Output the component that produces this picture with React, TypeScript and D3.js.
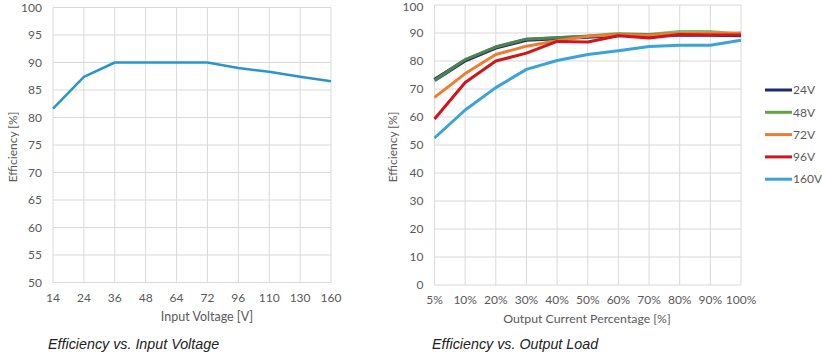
import React from 'react';
import * as d3 from 'd3';

// left chart
const voltages = ['14', '24', '36', '48', '64', '72', '96', '110', '130', '160'];
const effByVoltage = [81.6, 87.4, 90, 90, 90, 90, 89, 88.3, 87.4, 86.6];
const leftTicks = [50, 55, 60, 65, 70, 75, 80, 85, 90, 95, 100];

// right chart
const loads = ['5%', '10%', '20%', '30%', '40%', '50%', '60%', '70%', '80%', '90%', '100%'];
const eff24 = [73.2, 80.2, 84.8, 87.6, 88.1, 88.7, 89.3, 89.3, 89.5, 89.4, 89.2];
const eff48 = [73.0, 80.5, 85.0, 87.8, 88.3, 88.9, 89.8, 89.5, 90.5, 90.5, 89.6];
const eff72 = [67.0, 75.5, 82.3, 85.3, 87.2, 88.8, 89.4, 89.2, 89.8, 89.9, 90.0];
const eff96 = [59.3, 72.3, 80.0, 82.8, 87.0, 86.8, 89.0, 88.2, 89.5, 89.3, 89.3];
const eff160 = [52.5, 62.5, 70.5, 77.0, 80.2, 82.3, 83.7, 85.2, 85.6, 85.6, 87.4];
const seriesNames = ['24V', '48V', '72V', '96V', '160V'];
const rightTicks = [0, 10, 20, 30, 40, 50, 60, 70, 80, 90, 100];

const colors: Record<string, string> = {
  '24V': '#1f2a6e',
  '48V': '#5fa441',
  '72V': '#ed7d31',
  '96V': '#d0151d',
  '160V': '#3aa3da',
};

const axisFont = 'Lato, "Open Sans", sans-serif';
const textColor = '#595959';
const gridColor = '#d9d9d9';

function Grid({ x, y, cats, ticks }: any) {
  const [x0, x1] = x.range();
  const [y0, y1] = y.range();
  return (
    <g>
      {ticks.map((t: number) => (
        <line key={'h' + t} x1={x0} x2={x1} y1={y(t)} y2={y(t)} stroke={gridColor} strokeWidth={1} />
      ))}
      {cats.map((c: string) => (
        <line key={'v' + c} x1={x(c)} x2={x(c)} y1={y0} y2={y1} stroke={gridColor} strokeWidth={1} />
      ))}
      {ticks.map((t: number) => (
        <text key={'t' + t} x={x0 - 11} y={Math.max(y(t), 7)} dy="0.35em" textAnchor="end" fontSize={12} fill={textColor}>
          {t}
        </text>
      ))}
      {cats.map((c: string) => (
        <text key={'c' + c} x={x(c)} y={y0 + 15} dy="0.35em" textAnchor="middle" fontSize={12} fill={textColor}>
          {c}
        </text>
      ))}
    </g>
  );
}

export default function App() {
  const xL = d3.scalePoint<string>().domain(voltages).range([53, 331]);
  const yL = d3.scaleLinear().domain([50, 100]).range([282.5, 7.5]);
  const xR = d3.scalePoint<string>().domain(loads).range([434.5, 741]);
  const yR = d3.scaleLinear().domain([0, 100]).range([285, 5]);

  const lineL = d3
    .line<number>()
    .x((_, i) => xL(voltages[i]) as number)
    .y((d) => yL(d));
  const lineR = d3
    .line<number>()
    .x((_, i) => xR(loads[i]) as number)
    .y((d) => yR(d));

  // drawing order: navy under green so the overlap reads dark green
  const rightSeries: [string, number[]][] = [
    ['24V', eff24],
    ['160V', eff160],
    ['48V', eff48],
    ['72V', eff72],
    ['96V', eff96],
  ];

  return (
    <svg width={822} height={354} style={{ position: 'absolute', left: 0, top: 0, background: '#fff' }} fontFamily={axisFont}>
      <rect width={822} height={354} fill="#fff" />
      {/* left chart */}
      <Grid x={xL} y={yL} cats={voltages} ticks={leftTicks} />
      <path d={lineL(effByVoltage) as string} fill="none" stroke="#2a95cc" strokeWidth={2.5} strokeLinejoin="round" />
      <text x={207} y={317} dy="0.35em" textAnchor="middle" fontSize={12.5} fill={textColor}>
        Input Voltage [V]
      </text>
      <text transform="translate(13,147) rotate(-90)" dy="0.35em" textAnchor="middle" fontSize={12} fill={textColor}>
        Efficiency [%]
      </text>
      <text x={48} y={349} fontSize={14.3} fontStyle="italic" fontFamily='"Liberation Sans", Arial, sans-serif' fill="#222">
        Efficiency vs. Input Voltage
      </text>

      {/* right chart */}
      <Grid x={xR} y={yR} cats={loads} ticks={rightTicks} />
      {rightSeries.map(([name, vals]) => (
        <path
          key={name}
          d={lineR(vals) as string}
          fill="none"
          stroke={colors[name]}
          strokeWidth={name === '24V' ? 4 : 3}
          strokeLinejoin="round"
          opacity={name === '48V' ? 0.75 : 1}
        />
      ))}
      <text x={587} y={319} dy="0.35em" textAnchor="middle" fontSize={12.3} fill={textColor}>
        Output Current Percentage [%]
      </text>
      <text transform="translate(393,147) rotate(-90)" dy="0.35em" textAnchor="middle" fontSize={12} fill={textColor}>
        Efficiency [%]
      </text>
      <text x={432} y={349} fontSize={14.3} fontStyle="italic" fontFamily='"Liberation Sans", Arial, sans-serif' fill="#222">
        Efficiency vs. Output Load
      </text>

      {/* legend */}
      {seriesNames.map((name, i) => {
        const ly = 90 + i * 22.3;
        return (
          <g key={name}>
            <line x1={765} x2={792} y1={ly} y2={ly} stroke={colors[name]} strokeWidth={3} />
            <text x={793} y={ly} dy="0.35em" fontSize={12} fill={textColor}>
              {name}
            </text>
          </g>
        );
      })}
    </svg>
  );
}
